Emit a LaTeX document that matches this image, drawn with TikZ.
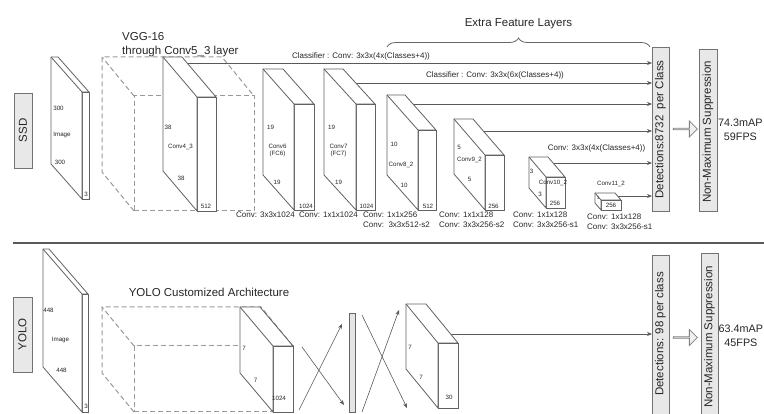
\documentclass[tikz,border=0pt]{standalone}
\usepackage{fontspec}
\setmainfont{Liberation Sans}
\usetikzlibrary{arrows.meta, calc, shapes.arrows, decorations.pathreplacing}

\begin{document}
\begin{tikzpicture}[
    x=1pt, y=-1pt,
    >={Stealth[length=5pt, width=4pt]},
    slabfront/.style={rectangle, draw=black!62, fill=white, line width=0.8pt, inner sep=0pt, outer sep=0pt},
    slabside/.style={draw=black!62, fill=white, line width=0.8pt, line join=round},
    ghostfront/.style={rectangle, draw=black!40, dash pattern=on 5pt off 3pt, line width=1pt, inner sep=0pt, outer sep=0pt},
    ghostside/.style={draw=black!40, dash pattern=on 5pt off 3pt, line width=1pt},
    tagbox/.style={rectangle, draw=black!55, fill=black!9, line width=0.8pt, inner sep=0pt, outer sep=0pt},
    fcbar/.style={rectangle, draw=black!60, fill=black!10, line width=0.8pt, inner sep=0pt, outer sep=0pt},
    blockarrow/.style={single arrow, draw=black!50, fill=black!6, line width=0.8pt, inner sep=0pt, minimum height=24pt, minimum width=16pt, single arrow head extend=4pt},
    heading/.style={inner sep=0pt, text=black!85, font=\fontsize{11.5}{14}\selectfont},
    score/.style={inner sep=0pt, text=black!85, font=\fontsize{10.8}{14}\selectfont},
    convtxt/.style={inner sep=0pt, text=black!85, font=\fontsize{8}{10}\selectfont},
    dimtxt/.style={inner sep=0pt, text=black!85, font=\fontsize{6.2}{7}\selectfont},
    arrow/.style={->, draw=black!65, line width=0.7pt},
    sepline/.style={draw=black!65, line width=1.2pt}
]
\useasboundingbox (0,0) rectangle (764,414);

% ==================== SSD: output side ====================
\node[tagbox, minimum width=18pt, minimum height=75pt] (ssdtag) at (23,130.5) {};
\node[heading, rotate=90] (ssdname) at (ssdtag.center) {SSD};

\node[tagbox, minimum width=17pt, minimum height=164pt] (ssddet) at (660.5,129) {};
\node[heading, rotate=90] (ssddettxt) at (660.5,129.5) {Detections:8732\ \ per Class};
\node[blockarrow] (ssdgo) at (685,129) {};
\node[tagbox, minimum width=18pt, minimum height=162pt] (ssdnms) at (708,130) {};
\node[heading, rotate=90] (ssdnmstxt) at (708,132) {Non-Maximum Suppression};
\node[score, anchor=west, align=center] (ssdscore) at (718,130) {74.3mAP\\59FPS};

% Classifier connections (drawn first, slabs cover their start)
\coordinate (c43out) at (184,63);
\coordinate (c7out) at (350,83);
\coordinate (c82out) at (408,104);
\coordinate (c92out) at (478,131);
\coordinate (c102out) at (549,163);
\coordinate (c112out) at (612,196);
\draw[arrow] (c43out) -- (c43out -| ssddet.west);
\draw[arrow] (c7out) -- (c7out -| ssddet.west);
\draw[arrow] (c82out) -- (c82out -| ssddet.west);
\draw[arrow] (c92out) -- (c92out -| ssddet.west);
\draw[arrow] (c102out) -- (c102out -| ssddet.west);
\draw[arrow] (c112out) -- (c112out -| ssddet.west);

\node[convtxt] (cls4) at (361,56) {Classifier : Conv: 3x3x(4x(Classes+4))};
\node[convtxt] (cls6) at (495,75) {Classifier : Conv: 3x3x(6x(Classes+4))};
\node[convtxt] (cls4b) at (596.5,148) {Conv: 3x3x(4x(Classes+4))};

% ==================== SSD: image and VGG ====================
\node[slabfront, minimum width=7pt, minimum height=107pt] (ssdimg) at (85.5,145.5) {};
\filldraw[slabside] (ssdimg.south west) -- ++(-31,-35) |- ($(ssdimg.north east)+(-31,-35)$) -- (ssdimg.north east) -- (ssdimg.north west) -- cycle;
\draw[slabside] (ssdimg.north west) -- ++(-31,-35);

\node[ghostfront, minimum width=120pt, minimum height=115pt] (vgg) at (194,153.5) {};
\draw[ghostside] (vgg.south west) -- ++(-32,-39) |- ($(vgg.north east)+(-32,-39)$) -- (vgg.north east);
\draw[ghostside] (vgg.north west) -- ++(-32,-39);
\node[heading, anchor=west, align=left] (vggtxt) at (122,44.5) {VGG-16\\through Conv5\_3 layer};

\node[slabfront, minimum width=19pt, minimum height=114pt] (conv43) at (206.5,154) {};
\filldraw[slabside] (conv43.south west) -- ++(-34,-40) |- ($(conv43.north east)+(-34,-40)$) -- (conv43.north east) -- (conv43.north west) -- cycle;
\draw[slabside] (conv43.north west) -- ++(-34,-40);

% ==================== SSD: extra feature layers ====================
\node[slabfront, minimum width=20pt, minimum height=106pt] (conv6) at (304,157) {};
\filldraw[slabside] (conv6.south west) -- ++(-31,-35) |- ($(conv6.north east)+(-31,-35)$) -- (conv6.north east) -- (conv6.north west) -- cycle;
\draw[slabside] (conv6.north west) -- ++(-31,-35);

\node[slabfront, minimum width=19pt, minimum height=106pt] (conv7) at (365.5,157) {};
\filldraw[slabside] (conv7.south west) -- ++(-32,-35) |- ($(conv7.north east)+(-32,-35)$) -- (conv7.north east) -- (conv7.north west) -- cycle;
\draw[slabside] (conv7.north west) -- ++(-32,-35);

\node[slabfront, minimum width=18pt, minimum height=80pt] (conv82) at (427,170) {};
\filldraw[slabside] (conv82.south west) -- ++(-31,-35) |- ($(conv82.north east)+(-31,-35)$) -- (conv82.north east) -- (conv82.north west) -- cycle;
\draw[slabside] (conv82.north west) -- ++(-31,-35);

\node[slabfront, minimum width=19pt, minimum height=55pt] (conv92) at (494.5,182.5) {};
\filldraw[slabside] (conv92.south west) -- ++(-31,-36) |- ($(conv92.north east)+(-31,-36)$) -- (conv92.north east) -- (conv92.north west) -- cycle;
\draw[slabside] (conv92.north west) -- ++(-31,-36);

\node[slabfront, minimum width=19pt, minimum height=31pt] (conv102) at (555.5,192.5) {};
\filldraw[slabside] (conv102.south west) -- ++(-17,-20) |- ($(conv102.north east)+(-17,-20)$) -- (conv102.north east) -- (conv102.north west) -- cycle;
\draw[slabside] (conv102.north west) -- ++(-17,-20);

\node[slabfront, minimum width=20pt, minimum height=10pt] (conv112) at (611,205) {};
\filldraw[slabside] (conv112.south west) -- ++(-6,-7) |- ($(conv112.north east)+(-6,-7)$) -- (conv112.north east) -- (conv112.north west) -- cycle;
\draw[slabside] (conv112.north west) -- ++(-6,-7);

\draw[draw=black!60, line width=0.8pt, decorate, decoration={brace, amplitude=9pt}] (387,47) -- (650,47);
\node[heading] (extra) at (518.5,24) {Extra Feature Layers};

% slab labels
\node[dimtxt] (imgh) at (58.5,108) {300};
\node[dimtxt] (imgn) at (62,135) {Image};
\node[dimtxt] (imgw) at (60,162) {300};
\node[dimtxt] (imgc) at (86,194) {3};
\node[dimtxt] (c43h) at (168,127) {38};
\node[dimtxt] (c43n) at (180.5,147) {Conv4\_3};
\node[dimtxt] (c43w) at (181,178) {38};
\node[dimtxt] (c43c) at (206,206) {512};
\node[dimtxt] (c6h) at (270.5,127) {19};
\node[dimtxt, align=center] (c6n) at (277.5,150.5) {Conv6\\(FC6)};
\node[dimtxt] (c6w) at (277,182) {19};
\node[dimtxt] (c6c) at (306,206) {1024};
\node[dimtxt] (c7h) at (331.5,127) {19};
\node[dimtxt, align=center] (c7n) at (338.5,150.5) {Conv7\\(FC7)};
\node[dimtxt] (c7w) at (338.5,182) {19};
\node[dimtxt] (c7c) at (366.5,206) {1024};
\node[dimtxt] (c82h) at (394,144) {10};
\node[dimtxt] (c82n) at (401,165) {Conv8\_2};
\node[dimtxt] (c82w) at (404,185) {10};
\node[dimtxt] (c82c) at (428,206) {512};
\node[dimtxt] (c92h) at (459,147) {5};
\node[dimtxt] (c92n) at (469.5,160) {Conv9\_2};
\node[dimtxt] (c92w) at (469.5,179) {5};
\node[dimtxt] (c92c) at (493.5,206) {256};
\node[dimtxt] (c102h) at (531.5,171) {3};
\node[dimtxt] (c102n) at (553,183) {Conv10\_2};
\node[dimtxt] (c102w) at (540,194) {3};
\node[dimtxt] (c102c) at (555,203) {256};
\node[dimtxt] (c112n) at (611,184) {Conv11\_2};
\node[dimtxt, font=\fontsize{4.5}{5}\selectfont] (c112h) at (598,198) {1};
\node[dimtxt] (c112c) at (611,205.5) {256};

% conv captions
\node[convtxt, anchor=west] (k6) at (236,215) {Conv: 3x3x1024};
\node[convtxt, anchor=west] (k7) at (299,215) {Conv: 1x1x1024};
\node[convtxt, anchor=west, align=left] (k82) at (363,220) {Conv: 1x1x256\\Conv:\ \ 3x3x512-s2};
\node[convtxt, anchor=west, align=left] (k92) at (439,220) {Conv: 1x1x128\\Conv: 3x3x256-s2};
\node[convtxt, anchor=west, align=left] (k102) at (513,220) {Conv: 1x1x128\\Conv: 3x3x256-s1};
\node[convtxt, anchor=west, align=left] (k112) at (587,221.5) {Conv: 1x1x128\\Conv: 3x3x256-s1};

% ==================== Divider ====================
\draw[sepline] (13,243) -- (764,243);

% ==================== YOLO (Bottom) ====================
\node[tagbox, minimum width=19pt, minimum height=75pt] (yolotag) at (22.5,334.5) {};
\node[heading, rotate=90] (yoloname) at (yolotag.center) {YOLO};

\node[tagbox, minimum width=17pt, minimum height=165pt] (yolodet) at (660.5,337.5) {};
\node[heading, rotate=90] (yolodettxt) at (660.5,334) {Detections: 98 per class};
\node[blockarrow] (yologo) at (685,337.5) {};
\node[tagbox, minimum width=17pt, minimum height=167pt] (yolonms) at (709.5,336.5) {};
\node[heading, rotate=90] (yolonmstxt) at (709.5,337) {Non-Maximum Suppression};
\node[score, anchor=west, align=center] (yoloscore) at (718.5,335.5) {63.4mAP\\45FPS};

\coordinate (outyolo) at (445,334);
\draw[arrow] (outyolo) -- (outyolo -| yolodet.west);

\node[slabfront, minimum width=6pt, minimum height=118pt] (yoloimg) at (85,353) {};
\filldraw[slabside] (yoloimg.south west) -- ++(-39,-45) |- ($(yoloimg.north east)+(-39,-45)$) -- (yoloimg.north east) -- (yoloimg.north west) -- cycle;
\draw[slabside] (yoloimg.north west) -- ++(-39,-45);

\node[ghostfront, minimum width=159pt, minimum height=66pt] (yolobox) at (213.5,379) {};
\draw[ghostside] (yolobox.south west) -- ++(-32,-39) |- ($(yolobox.north east)+(-32,-39)$) -- (yolobox.north east);
\draw[ghostside] (yolobox.north west) -- ++(-32,-39);
\node[heading] (yolotitle) at (209,292) {YOLO Customized Architecture};

\node[slabfront, minimum width=20pt, minimum height=66pt] (yoloconv) at (283,379) {};
\filldraw[slabside] (yoloconv.south west) -- ++(-33,-39) |- ($(yoloconv.north east)+(-33,-39)$) -- (yoloconv.north east) -- (yoloconv.north west) -- cycle;
\draw[slabside] (yoloconv.north west) -- ++(-33,-39);

\node[fcbar, minimum width=6pt, minimum height=99pt] (fc) at (352,362.5) {};

\node[slabfront, minimum width=20pt, minimum height=65pt] (yoloout) at (448,375.5) {};
\filldraw[slabside] (yoloout.south west) -- ++(-32,-39) |- ($(yoloout.north east)+(-32,-39)$) -- (yoloout.north east) -- (yoloout.north west) -- cycle;
\draw[slabside] (yoloout.north west) -- ++(-32,-39);

% fully connected crossings
\coordinate (xa1) at (302,347);
\coordinate (xb1) at (344,405);
\coordinate (xa2) at (299,410);
\coordinate (xb2) at (342,324);
\coordinate (xa3) at (362,315);
\coordinate (xb3) at (407,408);
\coordinate (xa4) at (362,412);
\coordinate (xb4) at (399,310);
\draw[arrow, line width=0.6pt] (xa1) -- (xb1);
\draw[arrow, line width=0.6pt] (xa2) -- (xb2);
\draw[arrow, line width=0.6pt] (xa3) -- (xb3);
\draw[arrow, line width=0.6pt] (xa4) -- (xb4);

% slab labels
\node[dimtxt] (yimgh) at (48.5,310) {448};
\node[dimtxt] (yimgn) at (60.5,340) {Image};
\node[dimtxt] (yimgw) at (61.5,370) {448};
\node[dimtxt] (yimgc) at (86,406) {3};
\node[dimtxt] (ych) at (244,348) {7};
\node[dimtxt] (ycw) at (255.5,380) {7};
\node[dimtxt] (ycc) at (279,398) {1024};
\node[dimtxt] (yoh) at (410,347) {7};
\node[dimtxt] (yow) at (421,377) {7};
\node[dimtxt] (yoc) at (449,397) {30};

\end{tikzpicture}
\end{document}
